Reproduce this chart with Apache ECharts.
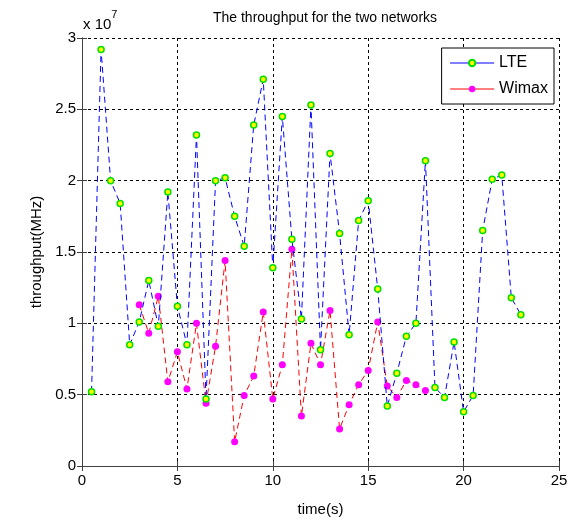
<!DOCTYPE html>
<html>
<head>
<meta charset="utf-8">
<script src="https://cdn.jsdelivr.net/npm/echarts@6/dist/echarts.min.js"></script>
<style>
html,body{margin:0;padding:0;background:#fff;}
#c{width:576px;height:522px;}
</style>
</head>
<body>
<div id="c"></div>
<script>
// values in units of 1e7
const lteTime = [0.5,1,1.5,2,2.5,3,3.5,4,4.5,5,5.5,6,6.5,7,7.5,8,8.5,9,9.5,10,10.5,11,11.5,12,12.5,13,13.5,14,14.5,15,15.5,16,16.5,17,17.5,18,18.5,19,19.5,20,20.5,21,21.5,22,22.5,23];
const lteValues = [0.52,2.92,2.00,1.84,0.85,1.01,1.30,0.98,1.92,1.12,0.85,2.32,0.47,2.00,2.02,1.75,1.54,2.39,2.71,1.39,2.45,1.59,1.03,2.53,0.815,2.19,1.63,0.92,1.72,1.86,1.24,0.42,0.65,0.91,1.00,2.14,0.55,0.48,0.87,0.38,0.495,1.65,2.01,2.04,1.18,1.06];
const wimaxTime = [3,3.5,4,4.5,5,5.5,6,6.5,7,7.5,8,8.5,9,9.5,10,10.5,11,11.5,12,12.5,13,13.5,14,14.5,15,15.5,16,16.5,17,17.5,18];
const wimaxValues = [1.13,0.93,1.19,0.59,0.80,0.54,1.00,0.44,0.84,1.44,0.17,0.495,0.63,1.08,0.47,0.71,1.52,0.35,0.86,0.71,1.09,0.26,0.43,0.57,0.67,1.01,0.56,0.48,0.60,0.57,0.53];
const xTicks = [0,5,10,15,20,25];
const yTicks = [0,0.5,1,1.5,2,2.5,3];
const seriesNames = ['LTE','Wimax'];
const titleText = 'The throughput for the two networks';
const xLabel = 'time(s)';
const yLabel = 'throughput(MHz)';

const FONT = "'Liberation Sans Narrow','Liberation Sans',Arial,sans-serif";
const chart = echarts.init(document.getElementById('c'), null, {renderer:'canvas'});

function pairs(xs, ys){ return xs.map((x,i)=>[x, ys[i]]); }

const axisLine = {show:true, lineStyle:{color:'#404040', width:1}};
const tick = {show:true, inside:true, length:5, lineStyle:{color:'#404040'}};
const split = {show:true, lineStyle:{color:'#000', type:[3,3], width:1}};

chart.setOption({
  animation:false,
  title:{text:titleText, left:320, top:6, textAlign:'center',
    textStyle:{fontFamily:FONT, fontSize:14, fontWeight:'normal', color:'#000'}},
  grid:{left:82, right:17, top:38, bottom:46, show:false},
  legend:{
    data:seriesNames, orient:'vertical', right:22, top:48,
    backgroundColor:'#fff', borderColor:'#000', borderWidth:1,
    padding:[7,6,7,8], itemGap:10, itemWidth:44, itemHeight:8,
    textStyle:{fontFamily:FONT, fontSize:16, color:'#000'},
    lineStyle:{type:'solid', width:1}
  },
  graphic:[{
    type:'text', left:83, top:9,
    style:{text:'{a|x 10}{b|7}', rich:{
      a:{fontFamily:FONT, fontSize:15, fill:'#000', padding:[8,0,0,0]},
      b:{fontFamily:FONT, fontSize:11, fill:'#000', verticalAlign:'top', padding:[0,0,8,0]}
    }}
  }],
  xAxis:[{
    type:'value', min:xTicks[0], max:xTicks[xTicks.length-1], interval:5,
    name:xLabel, nameLocation:'middle', nameGap:36,
    nameTextStyle:{fontFamily:FONT, fontSize:15, color:'#000'},
    axisLine:axisLine, axisTick:tick, splitLine:split,
    axisLabel:{fontFamily:FONT, fontSize:15, color:'#000', margin:7}
  },{
    type:'value', position:'top', min:0, max:25, interval:5,
    axisLine:axisLine, axisTick:tick, splitLine:{show:false}, axisLabel:{show:false}
  }],
  yAxis:[{
    type:'value', min:yTicks[0], max:yTicks[yTicks.length-1], interval:0.5,
    name:yLabel, nameLocation:'middle', nameGap:37, nameRotate:90,
    nameTextStyle:{fontFamily:FONT, fontSize:15, color:'#000'},
    axisLine:axisLine, axisTick:tick, splitLine:split,
    axisLabel:{fontFamily:FONT, fontSize:15, color:'#000', margin:6}
  },{
    type:'value', position:'right', min:0, max:3, interval:0.5,
    axisLine:axisLine, axisTick:tick, splitLine:{show:false}, axisLabel:{show:false}
  }],
  series:[{
    name:seriesNames[0], type:'line', data:pairs(lteTime, lteValues),
    symbol:'circle', symbolSize:6,
    lineStyle:{color:'#0000ff', width:1, type:[6,4]},
    itemStyle:{color:'#ffff00', borderColor:'#00e000', borderWidth:1.5},
    emphasis:{disabled:true}, z:3
  },{
    name:seriesNames[1], type:'line', data:pairs(wimaxTime, wimaxValues),
    symbol:'circle', symbolSize:7,
    lineStyle:{color:'#ff0000', width:1, type:[6,4]},
    itemStyle:{color:'#ff00ff', borderColor:'#ff00ff', borderWidth:0},
    emphasis:{disabled:true}, z:2
  }]
});
</script>
</body>
</html>
